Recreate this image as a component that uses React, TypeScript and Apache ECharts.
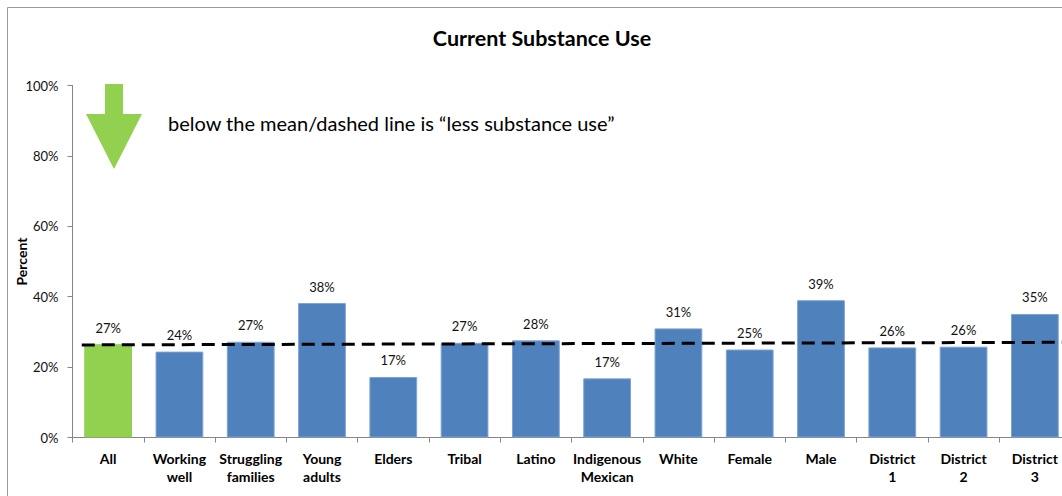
import React, { useEffect, useRef } from "react";
import * as echarts from "echarts";

// Category labels (line breaks as drawn under the axis)
const categories = [
  "All",
  "Working\nwell",
  "Struggling\nfamilies",
  "Young\nadults",
  "Elders",
  "Tribal",
  "Latino",
  "Indigenous\nMexican",
  "White",
  "Female",
  "Male",
  "District\n1",
  "District\n2",
  "District\n3",
];

// Percent of respondents reporting current substance use
const usePercent = [26.5, 24.4, 27.2, 38.2, 17.2, 26.9, 27.6, 16.8, 31.0, 25.0, 39.0, 25.6, 25.8, 35.1];

// Y axis ticks
const yTicks = [0, 20, 40, 60, 80, 100];

// Mean reference line: [position along the categories, percent]
const meanLineStart = [0.13, 26.3];
const meanLineEnd = [14, 27.05];

const FONT = "Lato, 'Open Sans', sans-serif";
const BLUE = "#4F81BD";
const GREEN = "#92D050";

export default function App() {
  const ref = useRef<HTMLDivElement>(null);

  useEffect(() => {
    document.body.style.margin = "0";
    if (!ref.current) return;
    const chart = echarts.init(ref.current, undefined, { renderer: "svg" });

    const barData = usePercent.map((v, i) => ({
      value: v,
      itemStyle: {
        color: i === 0 ? GREEN : BLUE,
        borderColor: i === 0 ? GREEN : "#7FA3D3",
        borderWidth: 1,
      },
    }));

    chart.setOption({
      animation: false,
      textStyle: { fontFamily: FONT },
      grid: {
        left: 72.5,
        top: 85.5,
        width: 998,
        height: 352,
        containLabel: false,
        outerBoundsMode: "none",
      },
      xAxis: [
        {
          type: "category",
          data: categories,
          boundaryGap: true,
          axisLine: { show: true, lineStyle: { color: "#868686", width: 1 } },
          axisTick: { show: true, length: 5, lineStyle: { color: "#868686" } },
          axisLabel: {
            interval: 0,
            fontFamily: FONT,
            fontSize: 14,
            fontWeight: "bold",
            color: "#000",
            lineHeight: 18,
            margin: 12,
          },
        },
        {
          type: "value",
          min: 0,
          max: 14,
          show: false,
        },
      ],
      yAxis: {
        type: "value",
        min: yTicks[0],
        max: yTicks[yTicks.length - 1],
        interval: 20,
        name: "Percent",
        nameLocation: "middle",
        nameRotate: 90,
        nameGap: 44,
        nameMoveOverlap: false,
        nameTextStyle: { fontFamily: FONT, fontSize: 14, fontWeight: "bold", color: "#000" },
        axisLine: { show: true, lineStyle: { color: "#868686", width: 1 } },
        axisTick: { show: true, length: 5, lineStyle: { color: "#868686" } },
        splitLine: { show: false },
        axisLabel: {
          formatter: "{value}%",
          fontFamily: FONT,
          fontSize: 13,
          color: "#111",
          margin: 14,
        },
      },
      series: [
        {
          type: "bar",
          data: barData,
          barCategoryGap: "33%",
          label: {
            show: true,
            position: "top",
            distance: 10,
            fontFamily: FONT,
            fontSize: 13,
            color: "#111",
            formatter: (p: any) => Math.round(p.value) + "%",
          },
        },
        {
          type: "line",
          xAxisIndex: 1,
          data: [meanLineStart, meanLineEnd],
          symbol: "none",
          z: 5,
          lineStyle: { color: "#000", width: 3, type: [13, 7] },
        },
      ],
      graphic: [
        {
          type: "rect",
          shape: { x: 7.5, y: 7.5, width: 1200, height: 700 },
          style: { fill: "none", stroke: "#9a9a9a", lineWidth: 1 },
          silent: true,
        },
        {
          type: "text",
          x: 542,
          y: 38,
          style: {
            text: "Current Substance Use",
            font: `bold 21.5px ${FONT}`,
            fill: "#000",
            align: "center",
            verticalAlign: "middle",
          },
        },
        {
          type: "text",
          x: 168,
          y: 123,
          style: {
            text: "below the mean/dashed line is \u201cless substance use\u201d",
            font: `20px ${FONT}`,
            fill: "#000",
            align: "left",
            verticalAlign: "middle",
          },
        },
        {
          type: "polygon",
          shape: {
            points: [
              [105, 84],
              [123, 84],
              [123, 114],
              [142, 114],
              [114, 169],
              [86, 114],
              [105, 114],
            ],
          },
          style: { fill: GREEN },
        },
      ],
    });

    return () => chart.dispose();
  }, []);

  return (
    <div style={{ width: 1062, height: 496, overflow: "hidden", position: "relative" }}>
      <div ref={ref} style={{ width: 1120, height: 496 }} />
    </div>
  );
}
